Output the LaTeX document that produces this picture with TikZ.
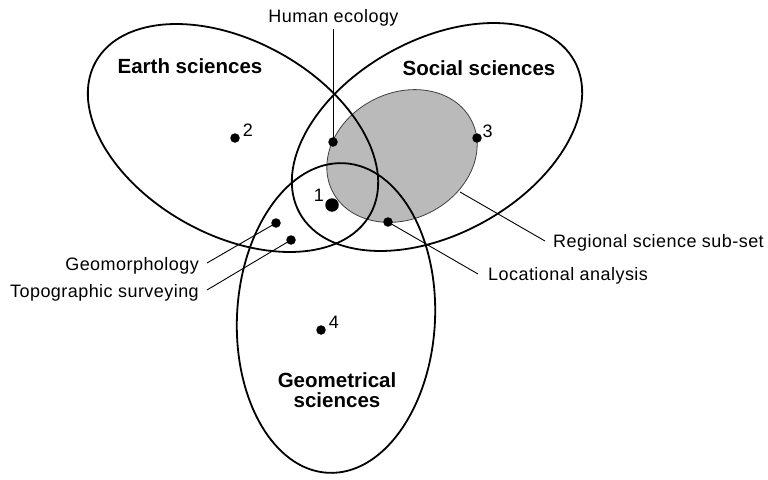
\documentclass[tikz,border=0pt]{standalone}
\usepackage{fontspec}
\setmainfont{Liberation Sans}
\newfontfamily\labfont{Liberation Sans}[LetterSpace=2.5]
\begin{document}
\begin{tikzpicture}[x=1pt,y=-1pt,
  bigset/.style={line width=1.8pt},
  subset/.style={fill=black!27, draw=black!75, line width=0.8pt},
  dot/.style={circle, fill=black, inner sep=0pt, minimum size=9.5pt},
  bigdot/.style={circle, fill=black, inner sep=0pt, minimum size=13.5pt},
  leader/.style={line width=0.9pt},
  lab/.style={font=\labfont\fontsize{18}{20}\selectfont, inner sep=0pt},
  setname/.style={font=\fontsize{20.5}{20}\selectfont\bfseries, inner sep=0pt, align=center},
  num/.style={font=\labfont\fontsize{18}{20}\selectfont, inner sep=0pt}
]
\useasboundingbox (0,0) rectangle (768,479);

% regional science sub-set (shaded)
\draw[subset, rotate around={27:(402,156)}] (402,156) ellipse [x radius=78, y radius=63];

% the three sets
\draw[bigset, rotate around={-29:(233,138)}] (233,138) ellipse [x radius=157, y radius=97];
\draw[bigset, rotate around={29:(437,137)}] (437,137) ellipse [x radius=157, y radius=97];
\draw[bigset, rotate around={-3:(336,318)}] (336,318) ellipse [x radius=99, y radius=155];

% set names
\node[setname, anchor=base] (earth) at (190,73) {Earth sciences};
\node[setname, anchor=base] (social) at (479,75) {Social sciences};
\node[setname] (geom) at (337,390) {Geometrical\\sciences};

% dots
\node[dot] (he) at (333,142) {};
\node[bigdot] (d1) at (332,205) {};
\node[dot] (d2) at (235,138) {};
\node[dot] (d3) at (477,138) {};
\node[dot] (d4) at (321,330) {};
\node[dot] (loc) at (388,222) {};
\node[dot] (geo) at (276,223) {};
\node[dot] (topo) at (291,240) {};
\coordinate (rss) at (460,192);

% numbers
\node[num] (n1) at (319,195) {1};
\node[num] (n2) at (248,130) {2};
\node[num] (n3) at (487.5,131) {3};
\node[num] (n4) at (334,322) {4};

% labels
\node[lab, anchor=base] (helab) at (333.5,22) {Human ecology};
\node[lab, anchor=base west] (rsslab) at (553,247) {Regional science sub-set};
\node[lab, anchor=base west] (loclab) at (488,280) {Locational analysis};
\node[lab, anchor=base east] (geolab) at (199,270) {Geomorphology};
\node[lab, anchor=base east] (topolab) at (199,297) {Topographic surveying};

% leader end points
\coordinate (heEnd) at (333,29);
\coordinate (rssEnd) at (545,241);
\coordinate (locEnd) at (478,274);
\coordinate (geoEnd) at (207,263);
\coordinate (topoEnd) at (207,290);

% leaders
\draw[leader] (heEnd) -- (he.center);
\draw[leader] (rssEnd) -- (rss);
\draw[leader] (locEnd) -- (loc.center);
\draw[leader] (geoEnd) -- (geo.center);
\draw[leader] (topoEnd) -- (topo.center);
\end{tikzpicture}
\end{document}
